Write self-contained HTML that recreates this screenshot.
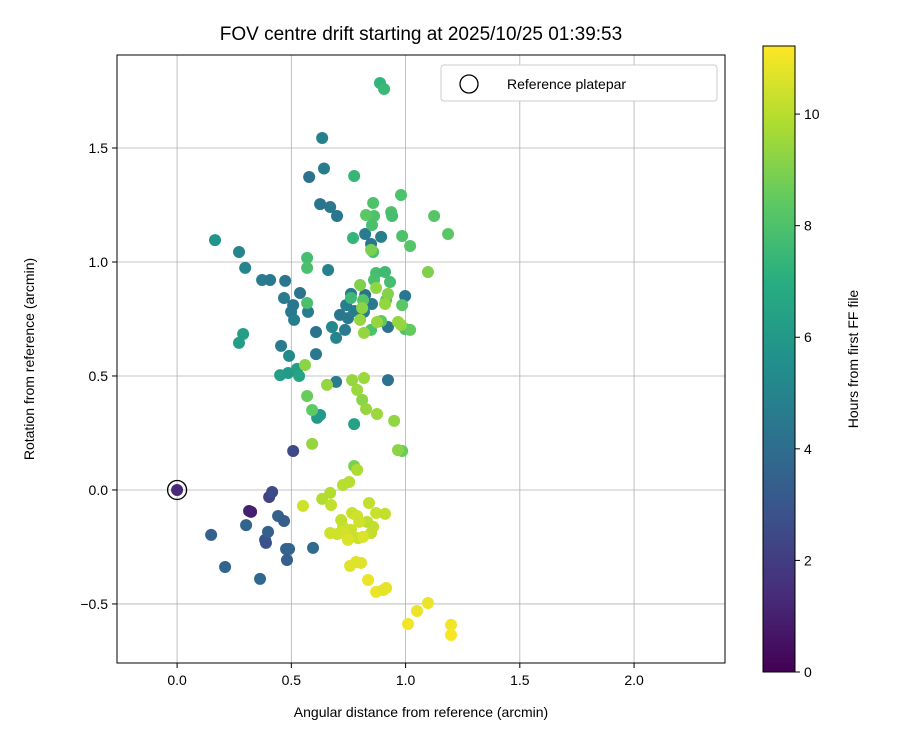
<!DOCTYPE html>
<html><head><meta charset="utf-8"><style>
body{margin:0;background:#fff;}
svg text{font-family:"Liberation Sans","DejaVu Sans",sans-serif;fill:#000;}
</style></head><body>
<svg id="chart" width="900" height="750" xmlns="http://www.w3.org/2000/svg">
<defs><linearGradient id="vir" x1="0" y1="1" x2="0" y2="0">
<stop offset="0" stop-color="#440154"/><stop offset="0.125" stop-color="#472d7b"/><stop offset="0.25" stop-color="#3b528b"/><stop offset="0.375" stop-color="#2c728e"/><stop offset="0.5" stop-color="#21918c"/><stop offset="0.625" stop-color="#28ae80"/><stop offset="0.75" stop-color="#5ec962"/><stop offset="0.875" stop-color="#addc30"/><stop offset="1" stop-color="#fde725"/></linearGradient></defs>
<text x="421" y="40" text-anchor="middle" font-size="19">FOV centre drift starting at 2025/10/25 01:39:53</text>
<g id="grid"></g><g id="pts"></g><g id="axes"></g>
<rect x="117" y="55" width="608" height="608" fill="none" stroke="#000" stroke-width="1"/>
<g>
<rect x="441" y="65" width="276" height="36" rx="3" fill="#fff" stroke="#ccc"/>
<circle cx="469" cy="84" r="9" fill="none" stroke="#000" stroke-width="1.3"/>
<text x="507" y="89" font-size="14">Reference platepar</text>
</g>
<text x="421" y="717" text-anchor="middle" font-size="14">Angular distance from reference (arcmin)</text>
<text transform="translate(34,359) rotate(-90)" text-anchor="middle" font-size="14">Rotation from reference (arcmin)</text>
<rect x="763" y="46" width="32" height="626" fill="url(#vir)" stroke="#000" stroke-width="1"/>
<g id="cbticks"></g>
<text transform="translate(858,359) rotate(-90)" text-anchor="middle" font-size="14">Hours from first FF file</text>
</svg>
<script>
const xTicks=[0.0,0.5,1.0,1.5,2.0];
const yTicks=[-0.5,0.0,0.5,1.0,1.5];
const cbTicks=[0,2,4,6,8,10];
const ptsX=[0,0.315,0.324,0.403,0.416,0.508,
0.149,0.210,0.302,0.385,0.398,0.442,0.468,0.477,0.490,0.481,0.363,0.595,0.389,
0.166,0.271,0.298,0.372,0.407,0.473,0.468,0.538,0.508,0.499,0.512,0.455,0.490,0.573,0.608,0.608,0.635,0.643,0.578,0.626,0.670,0.700,0.661,0.678,0.696,0.735,0.713,0.748,0.740,0.761,0.823,0.853,0.923,0.823,0.893,0.849,0.998,0.775,0.818,0.923,0.696,0.613,0.626,0.775,
0.271,0.289,0.451,0.486,0.525,0.534,
0.775,0.888,0.906,0.770,0.569,0.569,0.569,0.761,0.871,0.910,0.858,0.937,0.858,0.862,0.941,0.853,0.980,0.985,1.020,1.125,1.186,0.985,0.998,0.893,0.932,0.862,0.915,1.020,0.849,0.814,0.827,1.098,0.985,
0.560,0.569,0.591,0.656,0.591,0.775,0.551,0.635,0.670,0.726,0.753,0.788,0.810,0.818,0.788,0.766,0.827,0.875,0.950,0.967,0.980,0.967,0.801,0.818,0.875,0.923,0.801,0.810,0.910,0.871,0.849,0.726,0.674,0.718,0.766,0.761,0.792,0.858,0.832,0.871,0.840,0.788,0.849,0.910,0.797,0.735,0.700,0.748,0.670,
0.757,0.783,0.836,0.871,0.902,0.915,0.805,1.098,1.050,1.011,1.199,1.199,0.814];
const ptsY=[0,-0.092,-0.096,-0.031,-0.009,0.171,
-0.197,-0.338,-0.154,-0.219,-0.184,-0.114,-0.136,-0.259,-0.259,-0.307,-0.390,-0.254,-0.232,
1.096,1.044,0.974,0.921,0.921,0.917,0.842,0.864,0.811,0.781,0.746,0.632,0.588,0.781,0.693,0.596,1.544,1.41,1.373,1.254,1.241,1.202,0.965,0.715,0.667,0.702,0.768,0.754,0.811,0.860,0.855,0.816,0.715,1.123,1.110,1.079,0.851,0.785,0.781,0.482,0.474,0.316,0.329,0.289,
0.645,0.684,0.504,0.513,0.531,0.5,
1.377,1.785,1.759,1.105,1.018,0.974,0.820,0.842,0.952,0.956,1.044,1.219,1.259,1.202,1.202,1.162,1.294,1.114,1.070,1.202,1.123,0.811,0.706,0.741,0.912,0.921,0.833,0.702,0.702,0.833,1.206,0.956,0.171,
0.548,0.412,0.351,0.461,0.202,0.105,-0.070,-0.039,-0.013,0.022,0.035,0.088,0.395,0.491,0.439,0.482,0.355,0.333,0.303,0.175,0.724,0.737,0.746,0.689,0.737,0.860,0.899,0.798,0.816,0.886,1.053,-0.162,-0.066,-0.132,-0.101,-0.175,-0.211,-0.162,-0.140,-0.101,-0.057,-0.114,-0.189,-0.105,-0.140,-0.193,-0.193,-0.219,-0.189,
-0.333,-0.316,-0.395,-0.447,-0.439,-0.430,-0.320,-0.496,-0.531,-0.588,-0.592,-0.636,-0.206];
const ptsH=[1.3,1.0,1.0,2.2,2.5,2.5,
3.5,3.6,3.6,3.0,3.4,3.5,3.3,3.5,3.6,3.4,3.8,3.9,2.8,
5.8,5.0,5.0,4.6,4.5,4.4,4.6,4.3,4.4,4.5,4.7,4.6,5.3,4.6,4.3,4.5,4.9,4.7,4.2,4.3,4.5,4.4,4.9,5.2,5.0,4.6,4.4,4.5,4.8,4.6,4.3,4.5,4.2,4.6,4.8,4.4,4.4,4.7,4.8,4.2,4.6,6.0,6.0,6.4,
6.2,6.3,6.3,6.1,6.3,6.5,
7.4,7.3,7.5,7.3,7.8,7.9,7.9,7.6,7.8,7.6,7.9,8.0,8.0,8.0,7.8,7.9,8.0,8.0,8.2,8.2,8.3,8.3,8.0,8.4,7.8,7.9,8.2,8.5,8.0,8.2,8.3,9.0,8.6,
9.2,8.6,8.4,9.4,9.4,8.9,10.4,9.9,9.9,10.0,10.0,9.8,9.2,9.5,9.5,9.4,9.4,9.5,9.3,9.2,9.3,9.4,9.4,9.4,9.4,9.1,9.0,9.2,9.4,9.3,8.9,10.4,10.2,10.2,10.3,10.3,10.3,10.2,10.1,10.3,10.2,10.4,10.2,10.2,10.4,10.5,10.4,10.6,10.4,
10.7,10.7,10.9,10.9,10.8,10.8,10.7,10.9,10.9,11.0,11.0,11.1,10.6];
const NS='http://www.w3.org/2000/svg';
const L=117,R=725,T=55,B=663,XMIN=-0.263,XMAX=2.398,YMIN=-0.759,YMAX=1.908;
function xs(v){return L+(v-XMIN)/(XMAX-XMIN)*(R-L);}
function ys(v){return B-(v-YMIN)/(YMAX-YMIN)*(B-T);}
function cs(v){return 672-v/11.22*626;}
const vir=[[68,1,84],[71,45,123],[59,82,139],[44,114,142],[33,145,140],[40,174,128],[94,201,98],[173,220,48],[253,231,37]];
function color(h){let t=Math.max(0,Math.min(1,h/11.22))*8;let i=Math.min(7,Math.floor(t)),f=t-i;
const c=vir[i].map((a,k)=>Math.round(a+(vir[i+1][k]-a)*f));return 'rgb('+c.join(',')+')';}
function el(tag,attrs,parent){const e=document.createElementNS(NS,tag);for(const k in attrs)e.setAttribute(k,attrs[k]);parent.appendChild(e);return e;}
const grid=document.getElementById('grid'),axes=document.getElementById('axes'),pts=document.getElementById('pts'),cb=document.getElementById('cbticks');
xTicks.forEach(v=>{const x=xs(v);
const g=el('line',{x1:x,x2:x,y1:T,y2:B,stroke:'#b0b0b0','stroke-width':0.8},grid);


el('line',{x1:x,x2:x,y1:B,y2:B+5,stroke:'#000'},axes);
const t=el('text',{x:x,y:B+22,'text-anchor':'middle','font-size':14},axes);t.textContent=v.toFixed(1);

});
yTicks.forEach(v=>{const y=ys(v);
const g=el('line',{x1:L,x2:R,y1:y,y2:y,stroke:'#b0b0b0','stroke-width':0.8},grid);


el('line',{x1:L-5,x2:L,y1:y,y2:y,stroke:'#000'},axes);
const t=el('text',{x:L-9,y:y+5,'text-anchor':'end','font-size':14},axes);t.textContent=(v<0?'\u2212'+Math.abs(v).toFixed(1):v.toFixed(1));

});
ptsX.forEach((x,i)=>{const c=el('circle',{cx:xs(x),cy:ys(ptsY[i]),r:6,fill:color(ptsH[i])},pts);

});
const ref=el('circle',{cx:xs(0),cy:ys(0),r:9.5,fill:'none',stroke:'#000','stroke-width':1.3},pts);


cbTicks.forEach(v=>{const y=cs(v);
el('line',{x1:795,x2:800,y1:y,y2:y,stroke:'#000'},cb);
const t=el('text',{x:804,y:y+5,'font-size':14},cb);t.textContent=v;

});
</script>
</body></html>
